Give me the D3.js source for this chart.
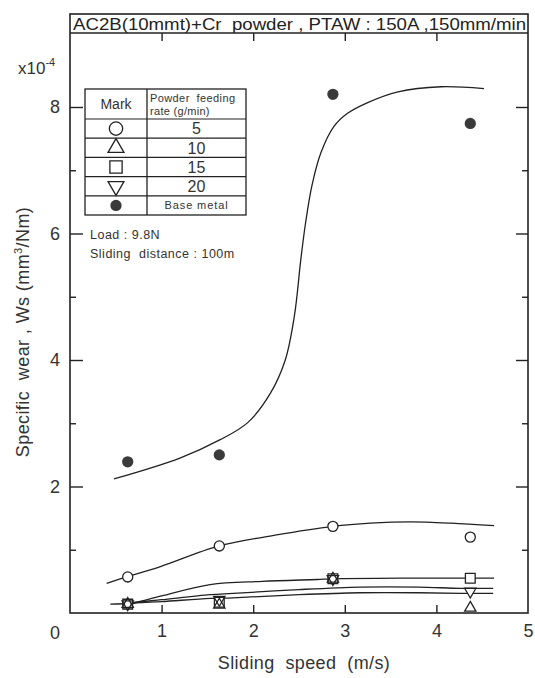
<!DOCTYPE html>
<html>
<head>
<meta charset="utf-8">
<script src="https://cdn.jsdelivr.net/npm/d3@7"></script>
<style>
  body { margin: 0; background: #fff; }
  svg { font-family: "Liberation Sans", Arial, sans-serif; }
  svg text { white-space: pre; }
</style>
</head>
<body>
<div id="chart"></div>
<script>
// measured points (sliding speed m/s, specific wear x1e-4 mm3/Nm)
const speeds = [0.63, 1.63, 2.87, 4.37];
const wearBase = [2.39, 2.50, 8.20, 7.74];
const wear5 = [0.57, 1.06, 1.37, 1.20];
const wear10 = [0.14, 0.13, 0.54, 0.08];
const wear15 = [0.14, 0.17, 0.54, 0.55];
const wear20 = [0.14, 0.21, 0.54, 0.34];

// hand drawn fit curves
const fitBase = [[0.48,2.12],[1.20,2.45],[1.64,2.74],[1.94,3.01],[2.19,3.48],[2.35,4.00],[2.45,4.70],[2.52,5.59],[2.57,6.15],[2.64,6.75],[2.74,7.28],[2.88,7.69],[3.03,7.90],[3.25,8.07],[3.58,8.24],[4.05,8.32],[4.52,8.29]];
const fit5 = [[0.40,0.47],[0.62,0.57],[0.98,0.73],[1.63,1.06],[2.24,1.23],[2.87,1.37],[3.28,1.42],[3.72,1.44],[4.16,1.42],[4.63,1.38]];
const fit15 = [[0.44,0.14],[0.63,0.15],[0.73,0.17],[1.00,0.27],[1.53,0.45],[2.10,0.50],[2.70,0.53],[2.87,0.54],[3.60,0.55],[4.37,0.55],[4.63,0.55]];
const fit20 = [[0.63,0.15],[0.73,0.17],[1.00,0.21],[1.53,0.29],[1.78,0.31],[2.50,0.37],[3.17,0.41],[3.80,0.41],[4.27,0.39],[4.62,0.39]];
const fit10 = [[0.63,0.14],[0.73,0.16],[1.00,0.18],[1.53,0.23],[1.78,0.24],[2.50,0.29],[3.17,0.32],[3.80,0.32],[4.27,0.31],[4.62,0.31]];

const xTicks = [1, 2, 3, 4, 5];
const yMajor = [2, 4, 6, 8];
const yMinor = [1, 3, 5, 7];

const legendMarks = ["circle", "triangle", "square", "triangleDown", "base"];
const legendRates = ["5", "10", "15", "20", "Base metal"];

const title = "AC2B(10mmt)+Cr  powder , PTAW : 150A ,150mm/min";
const notes = ["Load : 9.8N", "Sliding  distance : 100m"];

const width = 535, height = 678;
const margin = ({top: 33, right: 7, bottom: 65, left: 70});
const ink = "#222";

const svg = d3.select("#chart")
  .append("svg")
  .attr("width", width)
  .attr("height", height)
  .attr("viewBox", [0, 0, width, height]);

const x = d3.scaleLinear()
  .domain([0, 5])
  .range([margin.left, width - margin.right]);

const y = d3.scaleLinear()
  .domain([0, 8])
  .range([height - margin.bottom, 107]);

const symbolPath = {
  circle: d3.symbol().type(d3.symbolCircle).size(80)(),
  triangle: d3.symbol().type(d3.symbolTriangle).size(55)(),
  triangleDown: d3.symbol().type(d3.symbolTriangle).size(55)(),
  square: d3.symbol().type(d3.symbolSquare).size(95)(),
  base: d3.symbol().type(d3.symbolCircle).size(100)()
};
const rot = k => k === "triangleDown" ? " rotate(180)" : "";

// frame + title box
svg.append("rect")
  .attr("x", margin.left).attr("y", 14)
  .attr("width", width - margin.right - margin.left)
  .attr("height", height - margin.bottom - 14)
  .attr("fill", "none").attr("stroke", ink).attr("stroke-width", 1.6);
svg.append("line")
  .attr("x1", margin.left).attr("x2", width - margin.right)
  .attr("y1", margin.top).attr("y2", margin.top)
  .attr("stroke", ink).attr("stroke-width", 1.4);
svg.append("text")
  .attr("x", margin.left + 3).attr("y", 29.5)
  .attr("font-size", 16).attr("fill", ink)
  .attr("textLength", 453).attr("lengthAdjust", "spacingAndGlyphs")
  .text(title);

// axes
const cleanAxis = g => g.call(g => g.select(".domain").remove())
  .call(g => g.selectAll("line").attr("stroke", ink).attr("stroke-width", 1.4));

svg.append("g")
  .attr("transform", `translate(0,${height - margin.bottom})`)
  .call(d3.axisBottom(x).tickValues(xTicks).tickSize(-8).tickPadding(11).tickFormat(d3.format("d")))
  .call(cleanAxis)
  .call(g => g.selectAll(".tick").filter(d => d === 5).select("line").remove())
  .call(g => g.selectAll("text").attr("font-size", 18).attr("fill", "#333"));

svg.append("g")
  .attr("transform", `translate(0,${margin.top})`)
  .call(d3.axisTop(x).tickValues(xTicks.slice(0, 4)).tickSize(-8).tickFormat(""))
  .call(cleanAxis);

svg.append("g")
  .attr("transform", `translate(${margin.left},0)`)
  .call(d3.axisLeft(y).tickValues(yMajor).tickSize(-13).tickPadding(10))
  .call(cleanAxis)
  .call(g => g.selectAll("text").attr("font-size", 18).attr("fill", "#333"));

svg.append("g")
  .attr("transform", `translate(${margin.left},0)`)
  .call(d3.axisLeft(y).tickValues(yMinor).tickSize(-6).tickFormat(""))
  .call(cleanAxis);

svg.append("g")
  .attr("transform", `translate(${width - margin.right},0)`)
  .call(d3.axisRight(y).tickValues(yMajor).tickSize(-12).tickFormat(""))
  .call(cleanAxis);

svg.append("g")
  .attr("transform", `translate(${width - margin.right},0)`)
  .call(d3.axisRight(y).tickValues(yMinor).tickSize(-6).tickFormat(""))
  .call(cleanAxis);

svg.append("text")
  .attr("x", 55).attr("y", 639)
  .attr("text-anchor", "middle").attr("font-size", 18).attr("fill", "#333")
  .text("0");

// exponent
svg.append("text")
  .attr("x", 18).attr("y", 74)
  .attr("font-size", 17).attr("fill", "#333")
  .call(t => t.append("tspan").text("x10"))
  .call(t => t.append("tspan").attr("dy", -8).attr("font-size", 11).text("-4"));

// axis titles
svg.append("text")
  .attr("x", 304).attr("y", 669)
  .attr("text-anchor", "middle").attr("font-size", 18).attr("fill", "#333")
  .attr("letter-spacing", 0.4)
  .text("Sliding  speed  (m/s)");

svg.append("text")
  .attr("transform", "translate(29,332) rotate(-90)")
  .attr("text-anchor", "middle").attr("font-size", 18).attr("fill", "#333")
  .attr("letter-spacing", 0.4)
  .call(t => t.append("tspan").text("Specific  wear , Ws (mm"))
  .call(t => t.append("tspan").attr("dy", -7).attr("font-size", 11).text("3"))
  .call(t => t.append("tspan").attr("dy", 7).text("/Nm)"));

// fit curves
const line = d3.line()
  .x(d => x(d[0]))
  .y(d => y(d[1]))
  .curve(d3.curveCatmullRom.alpha(0.5));

svg.append("g")
  .attr("fill", "none").attr("stroke", ink).attr("stroke-width", 1.3)
  .selectAll("path")
  .data([fitBase, fit5, fit15, fit20, fit10])
  .join("path")
  .attr("d", line);

// points
const series = [
  {key: "square", values: wear15},
  {key: "triangle", values: wear10},
  {key: "triangleDown", values: wear20},
  {key: "circle", values: wear5},
  {key: "base", values: wearBase}
];
const points = series.flatMap(s => s.values.map((v, i) => ({key: s.key, x: speeds[i], y: v})));

svg.append("g")
  .selectAll("path")
  .data(points.filter(d => d.key !== "base"))
  .join("path")
  .attr("transform", d => `translate(${x(d.x)},${y(d.y)})${rot(d.key)}`)
  .attr("d", d => symbolPath[d.key])
  .attr("fill", "#fff");

svg.append("g")
  .selectAll("path")
  .data(points)
  .join("path")
  .attr("transform", d => `translate(${x(d.x)},${y(d.y)})${rot(d.key)}`)
  .attr("d", d => symbolPath[d.key])
  .attr("fill", d => d.key === "base" ? "#3a3a3a" : "none")
  .attr("stroke", ink)
  .attr("stroke-width", d => d.key === "base" ? 0 : 1.3);

// legend table
const lg = svg.append("g").attr("transform", "translate(85,89)");
const colW = [62, 99], headH = 30, rowH = 19.2;
const tableH = headH + rowH * legendMarks.length;

lg.append("rect")
  .attr("width", colW[0] + colW[1]).attr("height", tableH)
  .attr("fill", "#fff").attr("stroke", ink).attr("stroke-width", 1.3);
lg.append("line")
  .attr("x1", colW[0]).attr("x2", colW[0]).attr("y1", 0).attr("y2", tableH)
  .attr("stroke", ink).attr("stroke-width", 1.3);
lg.selectAll("line.row")
  .data(legendMarks)
  .join("line")
  .attr("class", "row")
  .attr("x1", 0).attr("x2", colW[0] + colW[1])
  .attr("y1", (d, i) => headH + i * rowH).attr("y2", (d, i) => headH + i * rowH)
  .attr("stroke", ink).attr("stroke-width", 1.2);

lg.append("text")
  .attr("x", colW[0] / 2).attr("y", 20)
  .attr("text-anchor", "middle").attr("font-size", 14).attr("fill", "#333")
  .text("Mark");
lg.append("text")
  .attr("x", colW[0] + 3).attr("y", 13)
  .attr("font-size", 11).attr("letter-spacing", 0.4).attr("fill", "#333")
  .text("Powder  feeding");
lg.append("text")
  .attr("x", colW[0] + 3).attr("y", 26)
  .attr("font-size", 11).attr("letter-spacing", 0.3).attr("fill", "#333")
  .text("rate (g/min)");

lg.selectAll("path.mark")
  .data(legendMarks)
  .join("path")
  .attr("class", "mark")
  .attr("transform", (d, i) => `translate(${colW[0] / 2},${headH + (i + 0.5) * rowH})${rot(d)}`)
  .attr("d", d => d === "base" ? symbolPath.base : d3.symbol().type(
    d === "circle" ? d3.symbolCircle : d === "square" ? d3.symbolSquare : d3.symbolTriangle)
    .size(d === "square" ? 150 : d === "circle" ? 140 : 110)())
  .attr("fill", d => d === "base" ? "#3a3a3a" : "none")
  .attr("stroke", ink).attr("stroke-width", d => d === "base" ? 0 : 1.3);

lg.selectAll("text.rate")
  .data(legendRates)
  .join("text")
  .attr("class", "rate")
  .attr("x", colW[0] + colW[1] / 2)
  .attr("y", (d, i) => headH + (i + 0.5) * rowH)
  .attr("dy", "0.36em")
  .attr("text-anchor", "middle")
  .attr("font-size", (d, i) => i === 4 ? 11 : 16)
  .attr("letter-spacing", (d, i) => i === 4 ? 0.9 : 0)
  .attr("fill", "#333")
  .text(d => d);

// test conditions
svg.append("g")
  .selectAll("text")
  .data(notes)
  .join("text")
  .attr("x", 90)
  .attr("y", (d, i) => 239 + i * 19)
  .attr("font-size", 12.5).attr("letter-spacing", 0.5).attr("fill", "#333")
  .text(d => d);
</script>
</body>
</html>
